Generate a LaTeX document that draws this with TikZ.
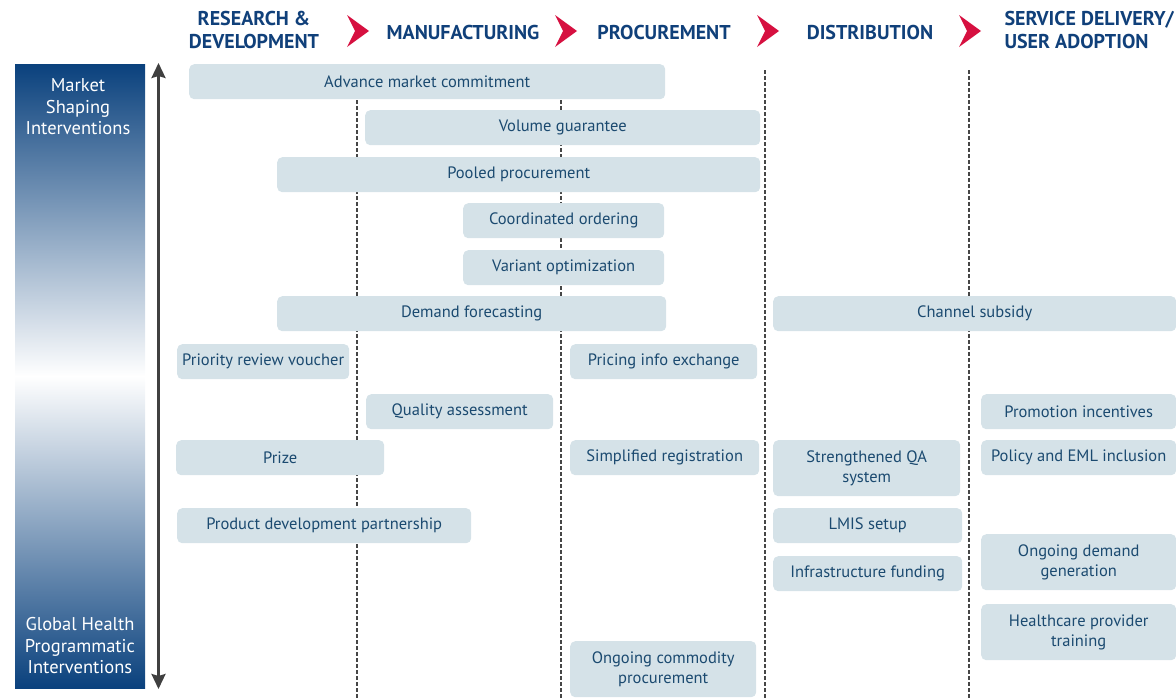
\documentclass[tikz,border=0pt]{standalone}
\usepackage{fontspec}
\setmainfont{PT Sans}
\usetikzlibrary{arrows.meta, backgrounds}
\definecolor{StageBlue}{RGB}{16, 64, 122}
\definecolor{LeverText}{RGB}{27, 74, 112}
\definecolor{LeverFill}{RGB}{213, 226, 232}
\definecolor{FlowRed}{RGB}{214, 16, 64}
\definecolor{BarBlue}{RGB}{10, 65, 125}
\definecolor{AxisGrey}{RGB}{64, 64, 64}
\definecolor{GuideGrey}{RGB}{70, 70, 70}

\begin{document}
\begin{tikzpicture}[
    % Pixel grid, y runs down
    x=1pt, y=-1pt,
    % Base: dark blue sans text
    base/.style={
        font=\fontsize{16.5}{20}\selectfont,
        text=LeverText,
        align=center
    },
    % Lever: one light box per intervention
    lever/.style={
        base,
        rectangle,
        rounded corners=5pt,
        fill=LeverFill,
        anchor=north west,
        inner sep=0pt,
        minimum height=35pt
    },
    % Two-line lever
    tall/.style={
        lever,
        minimum height=56pt
    },
    % Value chain stages
    stage/.style={
        font=\fontsize{20}{23}\selectfont\bfseries,
        text=StageBlue,
        align=center
    },
    % Text on the side bar
    side/.style={
        font=\fontsize{18.5}{21.5}\selectfont,
        text=white,
        align=center
    },
    % Stage dividers: dotted grey
    guide/.style={
        draw=GuideGrey,
        line width=2.5pt,
        dash pattern=on 3.5pt off 2.5pt
    },
    % Axis: double headed
    axis/.style={
        draw=AxisGrey,
        line width=2.7pt,
        {Stealth[length=15pt, width=14pt, inset=2pt]}-{Stealth[length=15pt, width=14pt, inset=2pt]}
    }
]
\useasboundingbox (0,0) rectangle (1176,699);

% --- 1. STAGES ---
\node (rd) [stage] at (254,30) {RESEARCH \&\\DEVELOPMENT};
\node (mfg) [stage] at (463,32) {MANUFACTURING};
\node (proc) [stage] at (664,32) {PROCUREMENT};
\node (dist) [stage] at (870,32) {DISTRIBUTION};
\node (svc) [stage, anchor=west, align=left] at (1001,30) {SERVICE DELIVERY/\\USER ADOPTION};

\fill [FlowRed] (347,15) -- (369,31) -- (347,47) -- (355,31) -- cycle;
\fill [FlowRed] (555,15) -- (577,31) -- (555,47) -- (563,31) -- cycle;
\fill [FlowRed] (757,15) -- (779,31) -- (757,47) -- (765,31) -- cycle;
\fill [FlowRed] (959,15) -- (981,31) -- (959,47) -- (967,31) -- cycle;

% --- 2. SIDE BAR ---
\node (mshape) [side] at (78,107) {Market\\Shaping\\Interventions};
\node (ghealth) [side] at (80,646) {Global Health\\Programmatic\\Interventions};

\coordinate (top) at (158.5,63);
\coordinate (bottom) at (158.5,689);
\draw [axis] (bottom) -- (top);

% --- 3. LEVERS ---
\node (amc) [lever, minimum width=476pt] at (189,64) {Advance market commitment};
\node (vol) [lever, minimum width=395pt] at (365,110) {Volume guarantee};
\node (pooled) [lever, minimum width=483pt] at (277,157) {Pooled procurement};
\node (coord) [lever, minimum width=201pt] at (463,203) {Coordinated ordering};
\node (variant) [lever, minimum width=201pt] at (463,250) {Variant optimization};
\node (demand) [lever, minimum width=389pt] at (277,296) {Demand forecasting};
\node (channel) [lever, minimum width=403pt] at (773,296) {Channel subsidy};
\node (prv) [lever, minimum width=172pt] at (177,344) {Priority review voucher};
\node (pricing) [lever, minimum width=187pt] at (570,344) {Pricing info exchange};
\node (quality) [lever, minimum width=187pt] at (366,394) {Quality assessment};
\node (promo) [lever, minimum width=195pt] at (981,394) {Promotion incentives};
\node (prize) [lever, minimum width=208pt] at (176,440) {Prize};
\node (simreg) [lever, minimum width=189pt] at (570,440) {Simplified registration};
\node (sqa) [tall, minimum width=187pt] at (773,440) {Strengthened QA\\system};
\node (policy) [lever, minimum width=195pt] at (981,440) {Policy and EML inclusion};
\node (pdp) [lever, minimum width=294pt] at (177,508) {Product development partnership};
\node (lmis) [lever, minimum width=189pt] at (773,508) {LMIS setup};
\node (infra) [lever, minimum width=189pt] at (773,556) {Infrastructure funding};
\node (odg) [tall, minimum width=195pt] at (981,534) {Ongoing demand\\generation};
\node (hpt) [tall, minimum width=195pt] at (981,604) {Healthcare provider\\training};
\node (ocp) [tall, minimum width=186pt] at (570,641) {Ongoing commodity\\procurement};

% --- BACKGROUND ---
\begin{scope}[on background layer]
    % Bar fades from navy to white and back
    \shade [top color=BarBlue, bottom color=white] (15,64) rectangle (145,376.5);
    \shade [top color=white, bottom color=BarBlue] (15,376) rectangle (145,688);

    % Stage dividers
    \draw [guide] (357,70) -- (357,699);
    \draw [guide] (561,70) -- (561,699);
    \draw [guide] (765,70) -- (765,699);
    \draw [guide] (969,70) -- (969,699);
\end{scope}

\end{tikzpicture}
\end{document}
